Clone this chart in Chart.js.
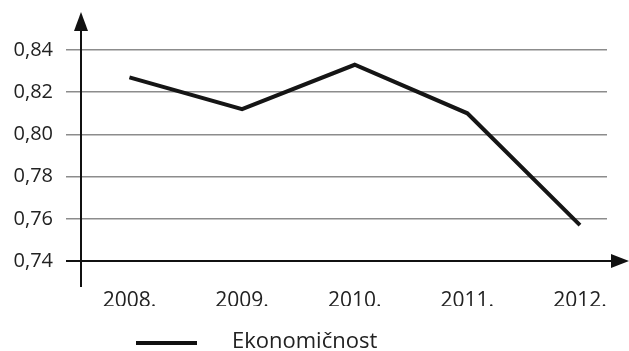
<!DOCTYPE html>
<html>
<head>
<meta charset="utf-8">
<script src="https://cdn.jsdelivr.net/npm/chart.js@4"></script>
<style>
  html, body { margin: 0; padding: 0; background: #fff; }
  #wrap { width: 629px; height: 351px; }
</style>
</head>
<body>
<div id="wrap"><canvas id="chart" width="629" height="351"></canvas></div>
<script>
// data
const years = ["2008.", "2009.", "2010.", "2011.", "2012."];
const ekonomicnost = [0.827, 0.812, 0.833, 0.810, 0.757];
const yTicks = [0.74, 0.76, 0.78, 0.80, 0.82, 0.84];
const seriesName = "Ekonomičnost";

const FONT = "'Open Sans', 'DejaVu Sans', sans-serif";

// arrows for the axes + the legend drawn by hand
const axisArrows = {
  id: "axisArrows",
  afterDraw(chart) {
    const ctx = chart.ctx;
    const a = chart.chartArea;
    const x0 = a.left, y0 = a.bottom;
    ctx.save();
    ctx.strokeStyle = "#111";
    ctx.fillStyle = "#111";
    ctx.lineWidth = 2;
    // y axis
    ctx.beginPath();
    ctx.moveTo(x0, y0 + 26);
    ctx.lineTo(x0, 28);
    ctx.stroke();
    ctx.beginPath();
    ctx.moveTo(x0, 12);
    ctx.lineTo(x0 - 7, 31);
    ctx.lineTo(x0 + 7, 31);
    ctx.closePath();
    ctx.fill();
    // x axis
    ctx.beginPath();
    ctx.moveTo(x0 - 15, y0);
    ctx.lineTo(613, y0);
    ctx.stroke();
    ctx.beginPath();
    ctx.moveTo(629, y0);
    ctx.lineTo(611, y0 - 7);
    ctx.lineTo(611, y0 + 7);
    ctx.closePath();
    ctx.fill();
    // legend
    ctx.lineWidth = 4;
    ctx.beginPath();
    ctx.moveTo(136, 343);
    ctx.lineTo(197, 343);
    ctx.stroke();
    ctx.font = "22px " + FONT;
    ctx.fillStyle = "#222";
    ctx.textBaseline = "middle";
    ctx.fillText(chart.data.datasets[0].label, 232, 342);
    ctx.restore();
  }
};

new Chart(document.getElementById("chart"), {
  type: "line",
  data: {
    datasets: [{
      label: seriesName,
      data: ekonomicnost.map((v, i) => ({ x: i, y: v })),
      borderColor: "#151515",
      borderWidth: 4,
      pointRadius: 0,
      tension: 0,
      fill: false
    }]
  },
  options: {
    responsive: false,
    animation: false,
    layout: { padding: { top: 50, right: 22, bottom: 45, left: 0 } },
    plugins: {
      legend: { display: false },
      tooltip: { enabled: false }
    },
    scales: {
      x: {
        type: "linear",
        min: -0.43,
        max: 4.24,
        afterBuildTicks: s => { s.ticks = years.map((y, i) => ({ value: i })); },
        afterFit: s => { s.height = 45; },
        border: { display: false },
        grid: { display: false },
        ticks: {
          padding: 19,
          color: "#222",
          font: { family: FONT, size: 21 },
          callback: v => years[v]
        }
      },
      y: {
        min: 0.74,
        max: 0.84,
        afterBuildTicks: s => { s.ticks = yTicks.map(v => ({ value: v })); },
        afterFit: s => { s.width = 81; },
        border: { display: false },
        grid: {
          color: c => c.tick.value === 0.74 ? "rgba(0,0,0,0)" : "#8c8c8c",
          lineWidth: 1.5,
          tickLength: 15,
          tickColor: c => c.tick.value === 0.74 ? "#111" : "#8c8c8c"
        },
        ticks: {
          padding: 13,
          color: "#222",
          font: { family: FONT, size: 20 },
          callback: v => v.toFixed(2).replace(".", ",")
        }
      }
    }
  },
  plugins: [axisArrows]
});
</script>
</body>
</html>
